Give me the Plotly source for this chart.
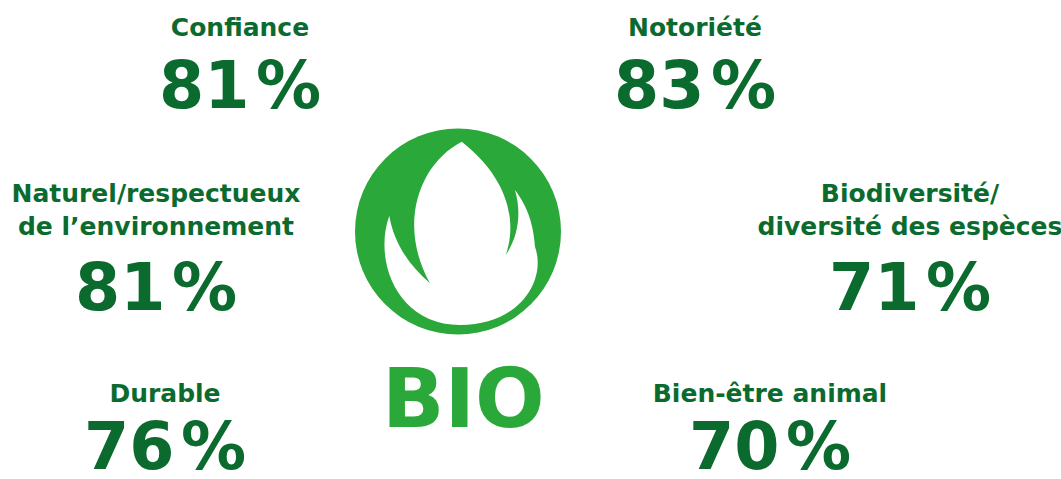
import plotly.graph_objects as go

labels = ["Confiance", "Notoriété", "Naturel/respectueux<br>de l’environnement",
          "Biodiversité/<br>diversité des espèces", "Durable", "Bien-être animal"]
values = [81, 83, 81, 71, 76, 70]

# where each block sits on the 1061x479 canvas (pixel units)
block_x = [240, 695, 156, 910, 165, 770]
label_y = [30, 30, 212, 212, 396, 396]
value_y = [92, 92, 294, 294, 453, 453]

DARK = "#0b6b2f"
LIGHT = "#2aa83a"
FONT = "DejaVu Sans"

fig = go.Figure()
fig.add_trace(go.Scatter(x=block_x, y=label_y, text=labels, mode="text",
                         textfont=dict(family=FONT, size=25, color=DARK, weight="bold"),
                         hoverinfo="skip"))
fig.add_trace(go.Scatter(x=block_x, y=value_y, text=[f"{v}\u200a%" for v in values], mode="text",
                         textfont=dict(family=FONT, size=65, color=DARK, weight="bold"),
                         hoverinfo="skip"))

# logo: green disc with white leaf cut out
cx, cy, r = 458, 231.5, 103
fig.add_shape(type="circle", x0=cx - r, x1=cx + r, y0=cy - r, y1=cy + r,
              fillcolor=LIGHT, line_width=0, layer="below")


def p(zx, zy):
    return f"{340 + zx / 3:.1f},{120 + zy / 3:.1f}"


leaf = ("M " + p(148, 287) +
        " C " + p(100, 420) + " " + p(170, 615) + " " + p(360, 615) +
        " C " + p(540, 615) + " " + p(620, 480) + " " + p(585, 380) +
        " C " + p(580, 300) + " " + p(555, 250) + " " + p(525, 210) +
        " C " + p(545, 280) + " " + p(535, 350) + " " + p(497, 405) +
        " C " + p(525, 330) + " " + p(525, 190) + " " + p(365, 65) +
        " C " + p(240, 130) + " " + p(170, 310) + " " + p(270, 490) +
        " C " + p(200, 430) + " " + p(160, 360) + " " + p(148, 287) + " Z")
fig.add_shape(type="path", path=leaf, fillcolor="white", line_width=0, layer="below")

fig.add_annotation(x=463, y=398, text="BIO", showarrow=False,
                   font=dict(family=FONT, size=82, color=LIGHT, weight="bold"))

fig.update_layout(width=1061, height=479, margin=dict(l=0, r=0, t=0, b=0),
                  showlegend=False, plot_bgcolor="white", paper_bgcolor="white",
                  xaxis=dict(range=[0, 1061], visible=False),
                  yaxis=dict(range=[479, 0], visible=False))
fig.write_html("out.html", config={"displayModeBar": False},
               post_script="document.body.style.margin='0';")
